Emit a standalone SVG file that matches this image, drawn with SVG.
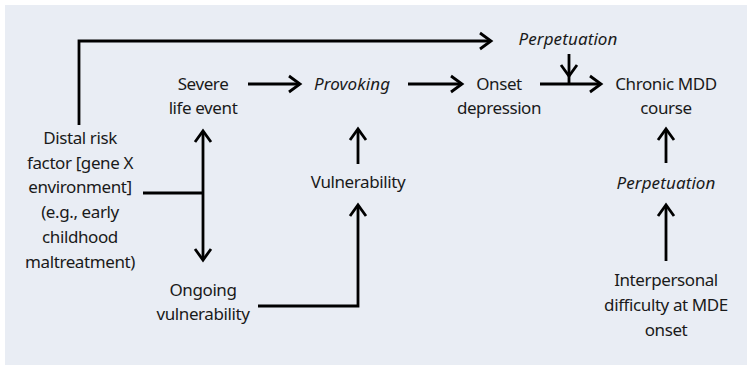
<svg xmlns="http://www.w3.org/2000/svg" width="747" height="366" viewBox="0 0 747 366">
<style>
text{font-family:"Noto Sans","Liberation Sans",sans-serif;font-size:17px;fill:#1a1a1a;text-anchor:middle;letter-spacing:-0.4px}
.it{font-style:italic;letter-spacing:0.1px}
.c{fill:none;stroke:#000;stroke-width:2.8}
</style>
<defs>
<marker id="ah" markerUnits="userSpaceOnUse" markerWidth="30" markerHeight="30" viewBox="-15 -15 30 30" refX="0" refY="0" orient="auto-start-reverse">
<path d="M-11,-8 L0,0 L-11,8" fill="none" stroke="#000" stroke-width="2.8"/>
</marker>
</defs>
<rect x="5" y="5" width="742" height="360" fill="#e9edf4"/>
<g id="connectors">
<path class="c" d="M79,125 V41 H491" marker-end="url(#ah)"/>
<path class="c" d="M248,84 H300" marker-end="url(#ah)"/>
<path class="c" d="M408,84 H462" marker-end="url(#ah)"/>
<path class="c" d="M540,84 H601" marker-end="url(#ah)"/>
<path class="c" d="M569,54 V76" marker-end="url(#ah)"/>
<path class="c" d="M569,75 V84"/>
<path class="c" d="M358,164 V129" marker-end="url(#ah)"/>
<path class="c" d="M258,306 H358 V205" marker-end="url(#ah)"/>
<path class="c" d="M203,131 V260" marker-start="url(#ah)" marker-end="url(#ah)"/>
<path class="c" d="M143,193 H203"/>
<path class="c" d="M666,163 V129" marker-end="url(#ah)"/>
<path class="c" d="M666,261 V205" marker-end="url(#ah)"/>
</g>
<g id="distal"><text x="80" y="144">Distal risk</text><text x="80" y="169">factor [gene X</text><text x="80" y="193">environment]</text><text x="80" y="218">(e.g., early</text><text x="80" y="243">childhood</text><text x="80" y="268">maltreatment)</text></g>
<g id="severe"><text x="203" y="90">Severe</text><text x="203" y="114">life event</text></g>
<g id="provoking"><text class="it" x="352" y="90">Provoking</text></g>
<g id="onset"><text x="499" y="90">Onset</text><text x="499" y="114">depression</text></g>
<g id="perp-top"><text class="it" x="568" y="45">Perpetuation</text></g>
<g id="chronic"><text x="666" y="90">Chronic MDD</text><text x="666" y="114">course</text></g>
<g id="vulnerability"><text x="358" y="188">Vulnerability</text></g>
<g id="perp-right"><text class="it" x="666" y="189">Perpetuation</text></g>
<g id="ongoing"><text x="203" y="296">Ongoing</text><text x="203" y="320">vulnerability</text></g>
<g id="interpersonal"><text x="666" y="286">Interpersonal</text><text x="666" y="311">difficulty at MDE</text><text x="666" y="336">onset</text></g>
</svg>
